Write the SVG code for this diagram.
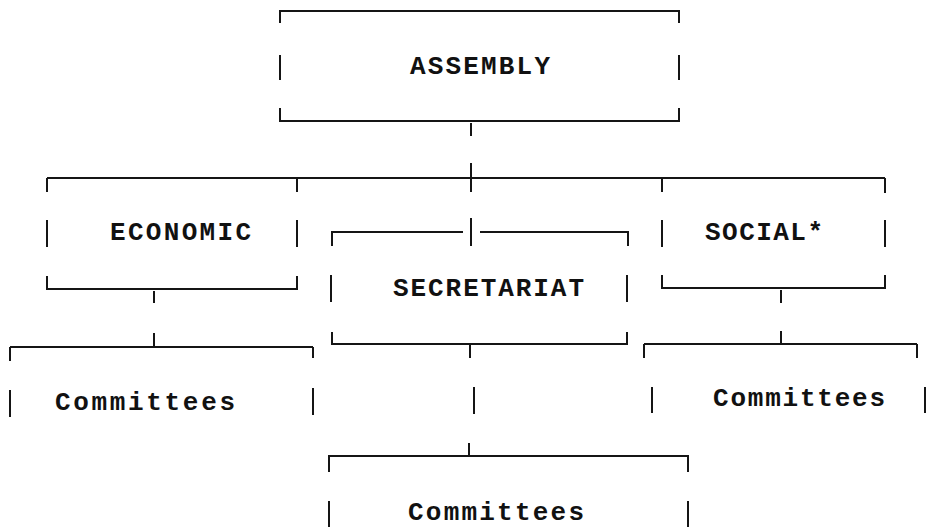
<svg xmlns="http://www.w3.org/2000/svg" width="927" height="527" viewBox="0 0 927 527">
<style>
.ln{fill:none;stroke:#151515;stroke-width:2;stroke-linecap:butt;stroke-linejoin:miter}
.t{font-family:"Liberation Mono","DejaVu Sans Mono",monospace;font-size:26px;font-weight:bold;fill:#111}
</style>
<rect width="927" height="527" fill="#fff"/>
<g id="connectors" class="ln">
<path d="M471,123V136M471,163V192M471,218V246M47,178H885"/>
<path d="M154,291V303M154,333V347M10,347H313"/>
<path d="M470,345V358M474,387V414M469,443V456"/>
<path d="M781,290V303M781,331V344M644,344H917"/>
</g>
<g id="assembly">
<path class="ln" d="M280,23V11H679V23M280,55V80M679,55V80M280,108V121H679V108"/>
<text class="t" x="410" y="74" textLength="140" lengthAdjust="spacing">ASSEMBLY</text>
</g>
<g id="economic">
<path class="ln" d="M47,178V192M297,178V192M47,220V247M297,220V247M47,276V289H297V276"/>
<text class="t" x="110" y="240" textLength="141" lengthAdjust="spacing">ECONOMIC</text>
</g>
<g id="secretariat">
<path class="ln" d="M332,246V232H463M480,232H628V246M331,275V302M627,275V302M332,332V344H627V332"/>
<text class="t" x="393" y="296" textLength="191" lengthAdjust="spacing">SECRETARIAT</text>
</g>
<g id="social">
<path class="ln" d="M662,178V192M885,178V193M662,220V247M885,220V247M662,275V288H885V275"/>
<text class="t" x="705" y="240" textLength="118" lengthAdjust="spacing">SOCIAL*</text>
</g>
<g id="committees-economic">
<path class="ln" d="M10,347V361M313,347V358M10,390V417M313,388V415"/>
<text class="t" x="55" y="410" textLength="180" lengthAdjust="spacing">Committees</text>
</g>
<g id="committees-secretariat">
<path class="ln" d="M329,472V456H688V472M329,501V527M688,501V527"/>
<text class="t" x="408" y="520" textLength="176" lengthAdjust="spacing">Committees</text>
</g>
<g id="committees-social">
<path class="ln" d="M644,344V358M917,344V358M652,387V413M925,387V413"/>
<text class="t" x="713" y="406" textLength="172" lengthAdjust="spacing">Committees</text>
</g>
</svg>
